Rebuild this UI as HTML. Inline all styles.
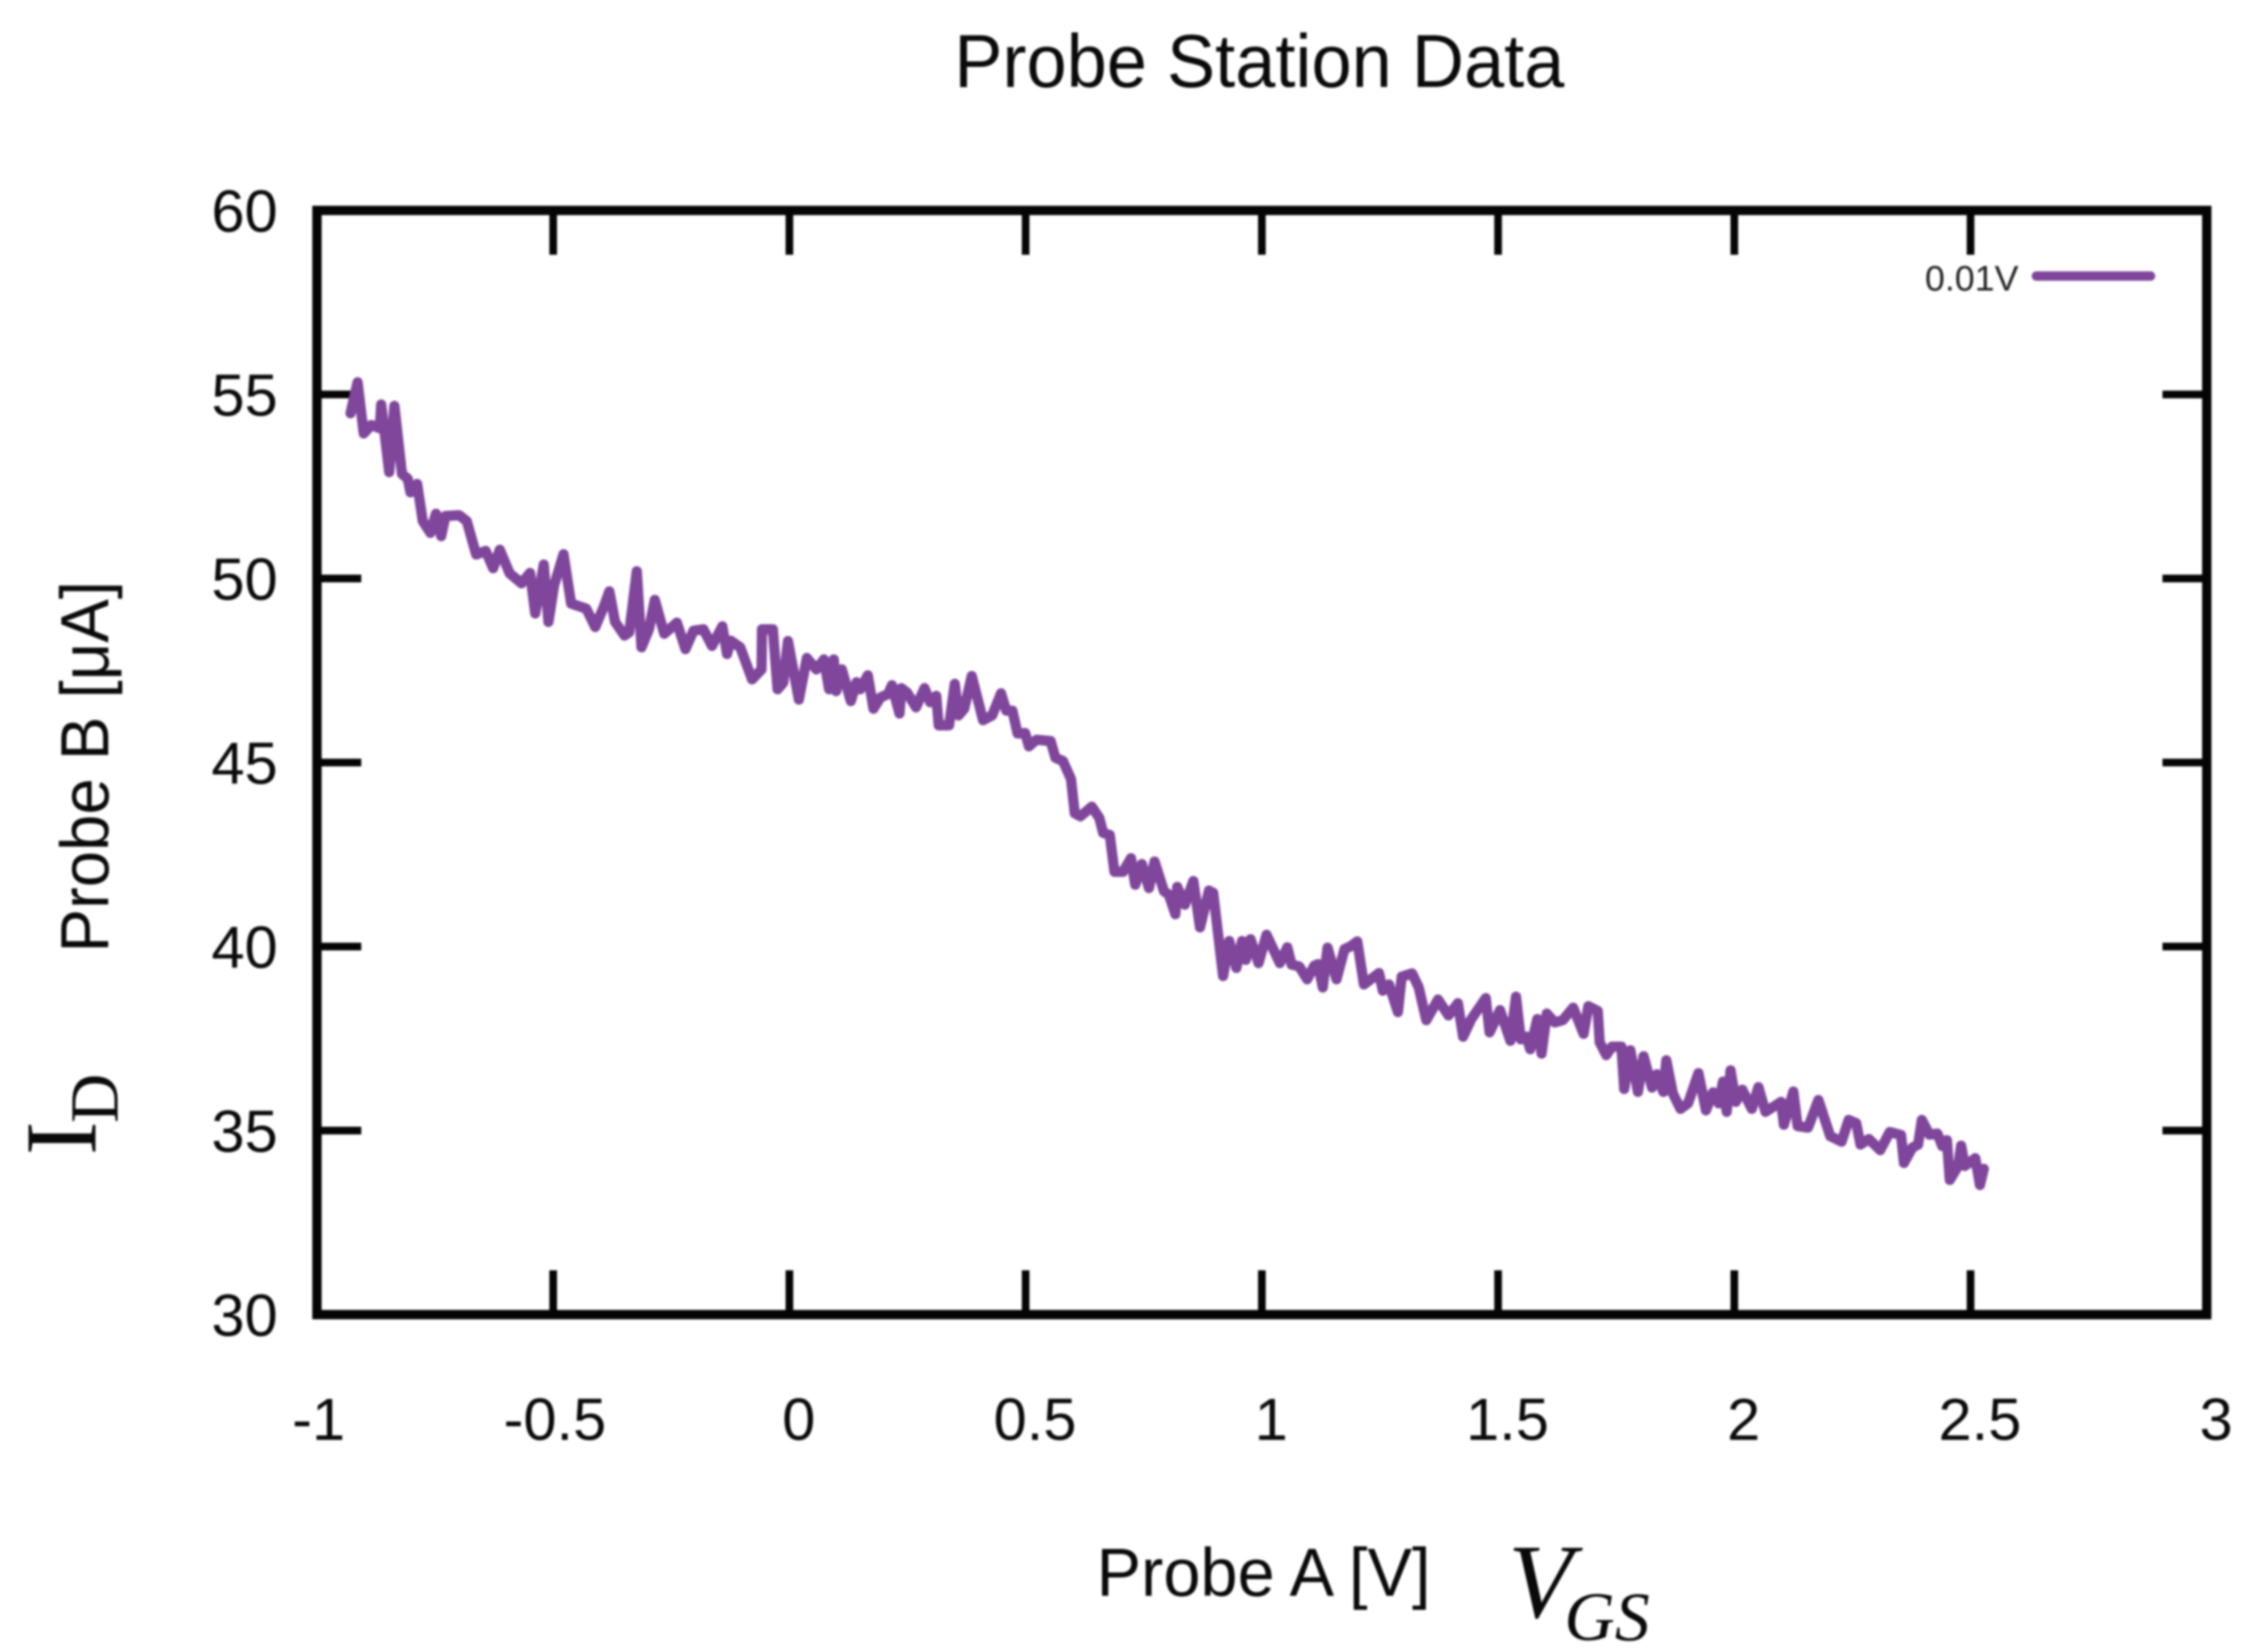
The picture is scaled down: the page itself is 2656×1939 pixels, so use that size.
<!DOCTYPE html>
<html lang="en">
<head>
<meta charset="utf-8">
<title>Probe Station Data</title>
<style>
  html, body { margin: 0; padding: 0; background: #fff; }
  body { width: 2656px; height: 1939px; overflow: hidden; }
  svg { display: block; filter: blur(1.3px); }
  text { font-family: "Liberation Sans", sans-serif; fill: #0a0a0a; }
  .serif { font-family: "Liberation Serif", serif; }
</style>
</head>
<body>
<svg id="chart" xmlns="http://www.w3.org/2000/svg" width="2656" height="1939" viewBox="0 0 2656 1939">
  <rect x="0" y="0" width="2656" height="1939" fill="#ffffff"/>
  <text x="1120" y="102" font-size="88" textLength="716" lengthAdjust="spacingAndGlyphs">Probe Station Data</text>
  <g id="ticks"></g>
  <g id="tick-labels"></g>
  <g id="series"></g>
  <rect x="372" y="247" width="2218" height="1296" fill="none" stroke="#050505" stroke-width="11"/>
  <text x="1287" y="1873" font-size="80" textLength="392" lengthAdjust="spacingAndGlyphs">Probe A [V]</text>
  <text class="serif" x="1770" y="1898" font-size="124" font-style="italic">V</text>
  <text class="serif" x="1836" y="1925" font-size="82" font-style="italic">GS</text>
  <text transform="translate(127 1118) rotate(-90)" x="0" y="0" font-size="80" textLength="436" lengthAdjust="spacingAndGlyphs">Probe B [μA]</text>
  <text class="serif" transform="translate(112 1356) rotate(-90)" x="0" y="0" font-size="120">I</text>
  <text class="serif" transform="translate(138 1318) rotate(-90)" x="0" y="0" font-size="80">D</text>
  <g>
    <text x="2369" y="341" font-size="42" text-anchor="end" style="fill:#222">0.01V</text>
    <line id="legend-swatch" x1="2390" y1="324" x2="2524" y2="324" stroke="#7f469b" stroke-width="11" stroke-linecap="round"/>
  </g>
</svg>
<script>
const xTickValues = [-1, -0.5, 0, 0.5, 1, 1.5, 2, 2.5, 3];
const yTickValues = [30, 35, 40, 45, 50, 55, 60];
const xTickLabels = ["-1", "-0.5", "0", "0.5", "1", "1.5", "2", "2.5", "3"];
const yTickLabels = ["30", "35", "40", "45", "50", "55", "60"];

const seriesName = "0.01V";
const probeA = [
  -0.929,-0.914,-0.901,-0.885,-0.867,-0.864,-0.847,-0.836,-0.820,-0.808,-0.802,-0.788,-0.776,-0.760,-0.748,-0.737,-0.728,-0.699,-0.683,-0.663,
  -0.643,-0.627,-0.613,-0.592,-0.567,-0.549,-0.538,-0.520,-0.510,-0.498,-0.478,-0.462,-0.430,-0.411,-0.393,-0.381,-0.369,-0.349,-0.339,-0.323,
  -0.313,-0.297,-0.285,-0.265,-0.238,-0.220,-0.203,-0.182,-0.164,-0.142,-0.132,-0.124,-0.104,-0.079,-0.059,-0.058,-0.035,-0.025,-0.013,-0.003,
  0.020,0.037,0.057,0.073,0.084,0.094,0.099,0.111,0.130,0.142,0.150,0.166,0.178,0.193,0.209,0.217,0.233,0.237,0.249,0.268,
  0.286,0.298,0.311,0.316,0.338,0.350,0.358,0.370,0.386,0.410,0.429,0.448,0.459,0.472,0.483,0.499,0.507,0.523,0.553,0.563,
  0.579,0.596,0.604,0.616,0.640,0.656,0.664,0.678,0.688,0.706,0.723,0.732,0.746,0.761,0.773,0.793,0.803,0.817,0.821,0.837,
  0.855,0.869,0.888,0.897,0.918,0.931,0.946,0.958,0.966,0.976,0.993,1.010,1.038,1.054,1.063,1.079,1.096,1.111,1.119,1.129,
  1.139,1.158,1.175,1.187,1.202,1.216,1.248,1.256,1.269,1.288,1.296,1.318,1.332,1.348,1.373,1.395,1.415,1.426,1.443,1.474,
  1.482,1.504,1.526,1.538,1.548,1.560,1.568,1.583,1.592,1.603,1.620,1.637,1.659,1.681,1.691,1.711,1.715,1.729,1.741,1.761,
  1.767,1.780,1.796,1.808,1.826,1.836,1.850,1.856,1.870,1.886,1.902,1.924,1.940,1.955,1.967,1.976,1.984,1.992,2.003,2.017,
  2.037,2.051,2.066,2.099,2.105,2.125,2.134,2.156,2.178,2.203,2.227,2.242,2.258,2.267,2.285,2.309,2.329,2.353,2.359,2.377,
  2.389,2.397,2.413,2.430,2.440,2.450,2.456,2.474,2.480,2.488,2.510,2.520,2.528
];
const probeB = [
  54.49,55.33,53.94,54.17,54.08,54.73,52.89,54.69,52.84,52.71,52.34,52.57,51.56,51.24,51.76,51.15,51.70,51.72,51.56,50.65,
  50.75,50.28,50.78,50.14,49.87,50.15,49.05,50.38,48.82,49.82,50.66,49.32,49.18,48.68,49.23,49.65,48.82,48.45,48.54,50.20,
  48.13,48.63,49.42,48.50,48.80,48.08,48.58,48.62,48.17,48.70,47.95,48.31,48.13,47.26,47.53,48.62,48.62,46.99,47.17,48.30,
  46.71,47.84,47.53,47.80,46.99,47.80,46.94,47.53,46.67,47.18,46.99,47.37,46.46,46.77,46.86,47.10,46.33,47.02,46.90,46.50,
  47.02,46.64,46.81,46.01,46.01,47.14,46.28,46.46,47.35,46.15,46.28,46.88,46.41,46.41,45.79,45.80,45.44,45.62,45.58,45.13,
  45.04,44.55,43.62,43.54,43.80,43.49,43.09,43.03,42.03,42.03,42.40,41.68,42.24,41.59,42.31,41.50,41.41,40.88,41.62,41.14,
  41.78,40.52,41.52,41.46,39.20,40.15,39.42,40.15,39.64,40.20,39.55,40.32,39.55,39.98,39.51,39.46,39.11,39.48,39.52,38.89,
  39.97,39.11,39.93,40.00,40.14,38.97,39.28,38.80,38.97,38.22,39.18,39.27,38.89,38.00,38.56,38.13,38.46,37.55,38.02,38.60,
  37.67,38.27,37.44,38.64,37.48,37.55,37.21,38.03,37.09,38.18,37.94,38.00,38.34,37.63,38.38,38.25,37.40,37.05,37.28,37.28,
  36.13,37.18,36.05,37.02,36.17,36.53,36.05,36.91,36.01,35.59,35.74,36.56,35.55,36.04,35.74,36.33,35.51,36.64,35.78,36.11,
  35.59,36.18,35.51,35.78,35.16,36.06,35.12,35.08,35.83,34.85,34.70,35.29,35.20,34.62,34.77,34.47,34.96,34.88,34.12,34.54,
  34.62,35.29,34.89,34.92,34.58,34.74,33.66,34.04,34.59,34.04,34.25,33.52,33.96
];

const plotLeft = 372, plotRight = 2590, plotTop = 247, plotBottom = 1543;
const xMin = -1, xMax = 3, yMin = 30, yMax = 60;
const tickLength = 52;
const SVG_NS = "http://www.w3.org/2000/svg";

function xScale(v) { return plotLeft + (v - xMin) / (xMax - xMin) * (plotRight - plotLeft); }
function yScale(v) { return plotBottom - (v - yMin) / (yMax - yMin) * (plotBottom - plotTop); }

const ticksLayer = document.getElementById("ticks");
const labelsLayer = document.getElementById("tick-labels");
const seriesLayer = document.getElementById("series");

function drawTick(x1, y1, x2, y2) {
  const t = document.createElementNS(SVG_NS, "line");
  t.setAttribute("x1", x1);
  t.setAttribute("y1", y1);
  t.setAttribute("x2", x2);
  t.setAttribute("y2", y2);
  t.setAttribute("stroke", "#050505");
  t.setAttribute("stroke-width", "9");
  
  
  ticksLayer.appendChild(t);
}

function drawLabel(x, y, anchor, content) {
  const l = document.createElementNS(SVG_NS, "text");
  l.setAttribute("x", x);
  l.setAttribute("y", y);
  l.setAttribute("text-anchor", anchor);
  l.setAttribute("font-size", "70");
  l.textContent = content;
  
  
  labelsLayer.appendChild(l);
}

xTickValues.forEach(function (v, i) {
  const x = xScale(v);
  drawTick(x, plotBottom, x, plotBottom - tickLength);
  drawTick(x, plotTop, x, plotTop + tickLength);
  drawLabel(x + (v < 0 ? 2 : 11), 1690, "middle", xTickLabels[i]);
});

yTickValues.forEach(function (v, i) {
  const y = yScale(v);
  drawTick(plotLeft, y, plotLeft + tickLength, y);
  drawTick(plotRight, y, plotRight - tickLength, y);
  drawLabel(326, y + 25, "end", yTickLabels[i]);
});

const line = document.createElementNS(SVG_NS, "polyline");
line.setAttribute("points", probeA.map(function (a, i) {
  return xScale(a).toFixed(1) + "," + yScale(probeB[i]).toFixed(1);
}).join(" "));
line.setAttribute("fill", "none");
line.setAttribute("stroke", "#7f469b");
line.setAttribute("stroke-width", "12");
line.setAttribute("stroke-linejoin", "round");
line.setAttribute("stroke-linecap", "round");


seriesLayer.appendChild(line);
</script>
</body>
</html>
